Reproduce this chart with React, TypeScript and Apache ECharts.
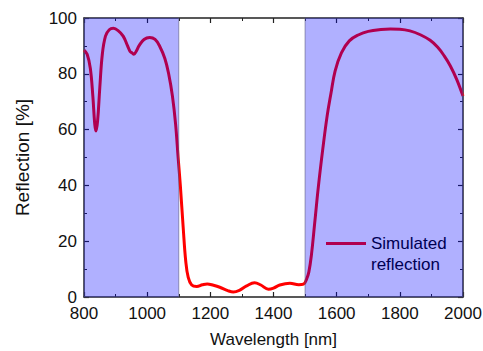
import React, { useEffect, useRef } from "react";
import * as echarts from "echarts";

const wavelengths = [
  800, 810, 820, 828, 834, 838, 843, 850, 858, 868, 880, 893, 908, 924, 938, 946, 952, 958, 965, 975,
  990, 1008, 1025, 1040, 1056, 1068, 1080, 1090, 1098, 1105, 1114, 1122, 1130, 1141, 1157, 1175, 1190,
  1210, 1230, 1255, 1273, 1292, 1315, 1340, 1360, 1384, 1400, 1420, 1452, 1480, 1495, 1505, 1512, 1520,
  1530, 1542, 1556, 1570, 1582, 1595, 1615, 1640, 1670, 1700, 1740, 1770, 1800, 1832, 1865, 1896, 1920,
  1940, 1960, 1980, 2000,
];
const reflection = [
  88.5, 87, 82, 72, 62, 59.5, 63, 75, 87, 93.5, 95.8, 96.3, 95.5, 93.5, 90, 88, 87.5, 87, 88, 90.2,
  92.3, 93, 92.3, 89.8, 85.5, 80, 72, 62, 50, 40, 25, 13, 7, 4.3, 3.8, 4.4, 4.7,
  4.2, 3.5, 2.3, 1.8, 2.4, 4, 5.1, 4.3, 2.8, 3.2, 4.3, 4.9, 4.4, 4.6, 6.5, 9, 15,
  26, 39.5, 53, 65, 73, 81, 87.5, 91.8, 94, 95.2, 95.9, 96.1, 96, 95.4, 94, 92, 89.5,
  86.5, 82.8, 78, 72,
];
const stopBands = [
  [800, 1100],
  [1500, 2000],
];
const xTicks = { min: 800, max: 2000, interval: 200 };
const yTicks = { min: 0, max: 100, interval: 20 };
const seriesName = "Simulated";
const legendSecondLine = "reflection";

const FONT = "Liberation Sans, Arial, sans-serif";

export default function App() {
  const ref = useRef<HTMLDivElement>(null);
  useEffect(() => {
    if (!ref.current) return;
    const chart = echarts.init(ref.current, undefined, { renderer: "svg" });
    const axisCommon = {
      axisLine: { show: true, onZero: false, lineStyle: { color: "#222", width: 1.5 } },
      axisTick: { show: true, inside: true, length: 5, lineStyle: { color: "#222", width: 1.2 } },
      minorTick: { show: true, splitNumber: 2, length: 3, lineStyle: { color: "#222", width: 1 } },
      splitLine: { show: false },
    };
    const labelStyle = { color: "#111", fontSize: 17, fontFamily: FONT };
    chart.setOption({
      animation: false,
      grid: { left: 84, right: 20, top: 18, bottom: 54, outerBoundsMode: "none", containLabel: false },
      legend: {
        data: [{ name: seriesName, icon: "rect" }],
        left: 326,
        top: 235,
        itemWidth: 40,
        itemHeight: 3,
        itemGap: 0,
        padding: 0,
        textStyle: { color: "#000", fontSize: 17, fontFamily: FONT },
        z: 4,
      },
      graphic: [
        {
          type: "text",
          left: 371,
          top: 256,
          z: 4,
          style: { text: legendSecondLine, fill: "#000", fontSize: 17, fontFamily: FONT },
        },
      ],
      xAxis: [
        {
          type: "value",
          ...xTicks,
          position: "bottom",
          ...axisCommon,
          axisLabel: { ...labelStyle, margin: 8, formatter: (v: number) => String(v) },
          name: "Wavelength [nm]",
          nameLocation: "middle",
          nameGap: 34,
          nameTextStyle: { ...labelStyle },
        },
        {
          type: "value",
          ...xTicks,
          position: "top",
          ...axisCommon,
          axisLabel: { show: false },
        },
      ],
      yAxis: [
        {
          type: "value",
          ...yTicks,
          position: "left",
          ...axisCommon,
          axisLabel: { ...labelStyle, margin: 7, formatter: (v: number) => String(v) },
          name: "Reflection [%]",
          nameLocation: "middle",
          nameGap: 52,
          nameTextStyle: { ...labelStyle, fontSize: 19 },
        },
        {
          type: "value",
          ...yTicks,
          position: "right",
          ...axisCommon,
          axisLabel: { show: false },
        },
      ],
      series: [
        {
          name: seriesName,
          type: "line",
          data: wavelengths.map((w, i) => [w, reflection[i]]),
          smooth: 0.4,
          showSymbol: false,
          symbol: "none",
          color: "#ff0000",
          lineStyle: { color: "#ff0000", width: 3 },
          z: 2,
        },
        {
          name: "bands",
          type: "custom",
          z: 10,
          silent: true,
          data: stopBands,
          renderItem: (params: any, api: any) => {
            const a = api.value(0);
            const b = api.value(1);
            const p1 = api.coord([a, yTicks.max]);
            const p2 = api.coord([b, yTicks.min]);
            return {
              type: "rect",
              shape: { x: p1[0], y: p1[1], width: p2[0] - p1[0], height: p2[1] - p1[1] },
              style: { fill: "rgba(0,0,255,0.31)", stroke: "rgba(90,90,130,0.6)", lineWidth: 1 },
            };
          },
        },
      ],
    });
    return () => chart.dispose();
  }, []);
  return <div ref={ref} style={{ width: 483, height: 351, position: "absolute", left: 0, top: 0 }} />;
}
